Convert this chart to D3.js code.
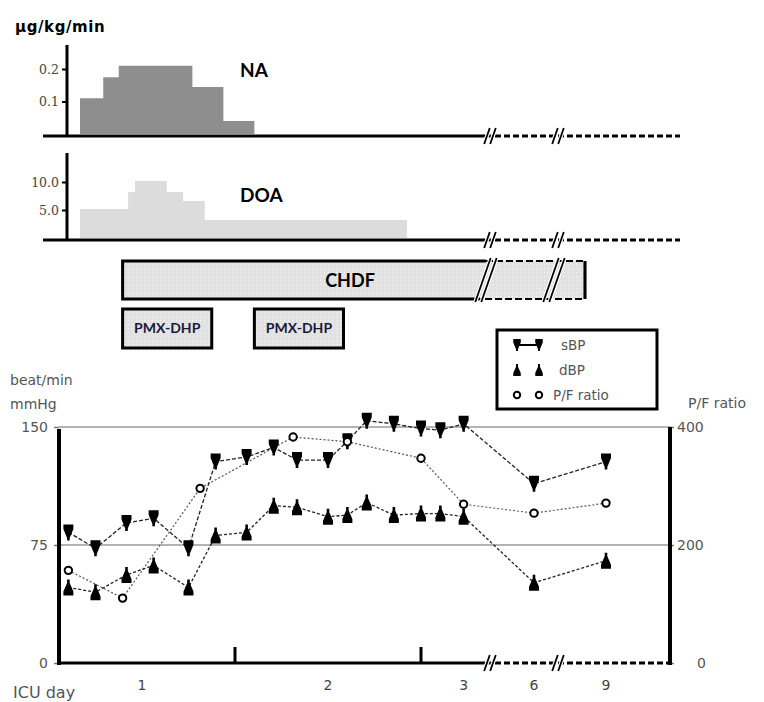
<!DOCTYPE html>
<html>
<head>
<meta charset="utf-8">
<script src="https://cdn.jsdelivr.net/npm/d3@7/dist/d3.min.js"></script>
<style>
  body { margin: 0; background: #fff; }
  svg { font-family: Lato, "Open Sans", sans-serif; }
</style>
</head>
<body>
<div id="chart"></div>
<script>
/** Data: time in hours from ICU admission (day 6 / day 9 placed at mid-day) */
const naSteps = [4, 7, 9, 18.5, 22.5, 26.5];          // step edges
const naValues = [0.11, 0.175, 0.21, 0.145, 0.04];     // µg/kg/min
const doaSteps = [4, 10.2, 11.1, 15.2, 17.3, 20.1, 46.2];
const doaValues = [5.2, 8.2, 10.2, 8.2, 6.6, 3.2];

const chdfSpan = [9.5, 183];
const pmxSpans = [[9.5, 21], [26.5, 38]];

const bpTimes = [2.5, 6, 10, 13.5, 18, 21.5, 25.5, 29, 32, 36, 38.5, 41, 44.5, 48, 50.5, 53.5, 132, 204];
const sbpValues = [83, 73, 89, 92, 73, 128, 131, 137, 129, 129, 141, 154, 152, 149, 148, 152, 114, 128];
const dbpValues = [48, 45, 56, 62, 48, 81, 83, 100, 99, 93, 94, 102, 94, 95, 95, 93, 51, 65];

const pfTimes = [2.5, 9.5, 19.5, 31.5, 38.5, 48, 53.5, 132, 204];
const pfValues = [157, 110, 296, 383, 375, 347, 269, 254, 271];

const dayLabels = ["1", "2", "3", "6", "9"];
const dayLabelTimes = [12, 36, 53.5, 132, 204];
const dayTicks = [24, 48];
const breakTimes = [66.4, 156];

const bpTicks = [0, 75, 150];
const pfTicks = [0, 200, 400];

/** Scales */
const x = d3.scaleLinear().domain([0, 56, 132, 204, 268]).range([49, 483, 534, 606, 670]);
const yNA = d3.scaleLinear().domain([0, 0.2]).range([134, 69]);
const yDOA = d3.scaleLinear().domain([0, 10]).range([238, 182]);
const yBP = d3.scaleLinear().domain([0, 150]).range([663, 427]);
const yPF = d3.scaleLinear().domain([0, 400]).range([663, 427]);

const svg = d3.select("#chart").append("svg").attr("width", 764).attr("height", 702);
const labelFont = "'DejaVu Sans', sans-serif";

/** Dotted fill pattern for CHDF / PMX boxes */
const pat = svg.append("defs").append("pattern")
  .attr("id", "dots").attr("width", 4).attr("height", 4).attr("patternUnits", "userSpaceOnUse");
pat.append("rect").attr("width", 4).attr("height", 4).attr("fill", "#e2e2e2");
pat.append("rect").attr("width", 1).attr("height", 1).attr("fill", "#f6f6f6");

const xEnd = x.domain()[x.domain().length - 1];
const solidEnd = x(breakTimes[0]) - 4;

/** Draw a double slash break mark */
function breakMark(g, cx, cy, h) {
  const dx = h * 0.35;
  [-3, 3].forEach(o => {
    g.append("line")
      .attr("x1", cx + o - dx).attr("y1", cy + h)
      .attr("x2", cx + o + dx).attr("y2", cy - h)
      .attr("stroke", "#fff").attr("stroke-width", 4);
  });
  [-3, 3].forEach(o => {
    g.append("line")
      .attr("x1", cx + o - dx).attr("y1", cy + h)
      .attr("x2", cx + o + dx).attr("y2", cy - h)
      .attr("stroke", "#000").attr("stroke-width", 1.8);
  });
}

/** Baseline with solid part, dashed tail and breaks */
function brokenBaseline(g, x0, y, xe) {
  g.append("line").attr("x1", x0).attr("x2", solidEnd).attr("y1", y).attr("y2", y)
    .attr("stroke", "#000").attr("stroke-width", 3);
  g.append("line").attr("x1", solidEnd).attr("x2", xe).attr("y1", y).attr("y2", y)
    .attr("stroke", "#000").attr("stroke-width", 3).attr("stroke-dasharray", "6,3");
  breakTimes.forEach(t => breakMark(g, x(t), y, 8));
}

/** Step area panel */
function stepPanel(steps, values, yScale, fill, axisTop, label, labelY, ticks, fmt) {
  const g = svg.append("g");
  const pts = [];
  values.forEach((v, i) => {
    pts.push([steps[i], v]);
    pts.push([steps[i + 1], v]);
  });
  const area = d3.area().x(d => x(d[0])).y0(yScale(0)).y1(d => yScale(d[1]));
  g.append("path").datum(pts).attr("d", area).attr("fill", fill);

  const yAxis = d3.axisLeft(yScale).tickValues(ticks).tickFormat(fmt).tickSize(5);
  const ax = g.append("g").attr("transform", "translate(67,0)").call(yAxis);
  ax.select(".domain").remove();
  ax.selectAll(".tick line").attr("stroke-width", 2);
  ax.selectAll("text").attr("fill", "#444")
    .attr("font-family", "'DejaVu Serif', serif").attr("font-size", 12.5);
  g.append("line").attr("x1", 67).attr("x2", 67).attr("y1", axisTop).attr("y2", yScale(0) + 3)
    .attr("stroke", "#000").attr("stroke-width", 3);
  brokenBaseline(g, 43, yScale(0) + 2, x(xEnd) + 10);
  g.append("text").attr("x", 240).attr("y", labelY).attr("dy", "0.35em")
    .attr("font-size", 19).attr("font-weight", "bold").text(label);
}

svg.append("text").attr("x", 15).attr("y", 32).attr("font-size", 15).attr("font-weight", "bold")
  .attr("font-family", labelFont).attr("letter-spacing", 0.6).text("µg/kg/min");
stepPanel(naSteps, naValues, yNA, "#8e8e8e", 45, "NA", 70, [0.1, 0.2], d3.format(".1f"));
stepPanel(doaSteps, doaValues, yDOA, "#dcdcdc", 153, "DOA", 195, [5, 10], d3.format(".1f"));

/** CHDF box */
const cg = svg.append("g");
const cx0 = x(chdfSpan[0]), cx1 = x(chdfSpan[1]);
cg.append("rect").attr("x", cx0).attr("y", 261).attr("width", cx1 - cx0).attr("height", 38)
  .attr("fill", "url(#dots)");
cg.append("path").attr("d", `M${solidEnd},261 H${cx0} V299 H${solidEnd - 6}`)
  .attr("fill", "none").attr("stroke", "#000").attr("stroke-width", 3);
cg.append("path").attr("d", `M${solidEnd},261 H${cx1} V299 H${solidEnd - 6}`)
  .attr("fill", "none").attr("stroke", "#000").attr("stroke-width", 2.2)
  .attr("stroke-dasharray", "7,3");
cg.append("line").attr("x1", cx1).attr("x2", cx1).attr("y1", 261).attr("y2", 299)
  .attr("stroke", "#000").attr("stroke-width", 3);
breakTimes.forEach(t => breakMark(cg, x(t) - 4, 280, 22));
cg.append("text").attr("x", 350).attr("y", 281).attr("dy", "0.35em").attr("text-anchor", "middle")
  .attr("font-size", 18).attr("font-weight", "bold").text("CHDF");

/** PMX-DHP boxes */
pmxSpans.forEach(s => {
  const bx = x(s[0]), bw = x(s[1]) - x(s[0]);
  svg.append("rect").attr("x", bx).attr("y", 309).attr("width", bw).attr("height", 39)
    .attr("fill", "url(#dots)").attr("stroke", "#000").attr("stroke-width", 3);
  svg.append("text").attr("x", bx + bw / 2).attr("y", 328.5).attr("dy", "0.35em")
    .attr("text-anchor", "middle").attr("font-size", 14).attr("font-weight", "bold")
    .attr("fill", "#1a1a3a").text("PMX-DHP");
});

/** Bottom chart */
const bg = svg.append("g");
[75, 150].forEach(v => {
  bg.append("line").attr("x1", 59).attr("x2", 670).attr("y1", yBP(v)).attr("y2", yBP(v))
    .attr("stroke", "#9a9a9a").attr("stroke-width", 1.5);
});

const left = bg.append("g").attr("transform", "translate(59,0)")
  .call(d3.axisLeft(yBP).tickValues(bpTicks).tickSize(5).tickPadding(6));
left.select(".domain").remove();
left.selectAll(".tick line").attr("stroke", "#777").attr("stroke-width", 1.5);
left.selectAll("text").attr("font-size", 14).attr("fill", "#555").attr("font-family", labelFont);
bg.append("line").attr("x1", 59).attr("x2", 59).attr("y1", yBP(150) + 2).attr("y2", yBP(0) + 2)
  .attr("stroke", "#000").attr("stroke-width", 4);

const right = bg.append("g").attr("transform", "translate(670,0)")
  .call(d3.axisRight(yPF).tickValues(pfTicks).tickSize(4).tickPadding(3).tickFormat(d => d === 0 ? "" : d));
right.select(".domain").remove();
right.selectAll(".tick line").attr("stroke", "#777").attr("stroke-width", 1.5);
right.selectAll("text").attr("font-size", 14).attr("fill", "#555").attr("font-family", labelFont);
bg.append("text").attr("x", 697).attr("y", yPF(0)).attr("dy", "0.35em").attr("font-size", 14)
  .attr("font-family", labelFont).attr("fill", "#555").text("0");
bg.append("line").attr("x1", 670).attr("x2", 670).attr("y1", yPF(400)).attr("y2", yPF(0) + 2)
  .attr("stroke", "#000").attr("stroke-width", 4);

brokenBaseline(bg, 59, yBP(0), 672);
dayTicks.forEach(t => {
  bg.append("line").attr("x1", x(t)).attr("x2", x(t)).attr("y1", yBP(0)).attr("y2", yBP(0) - 16)
    .attr("stroke", "#000").attr("stroke-width", 3);
});
dayLabels.forEach((d, i) => {
  bg.append("text").attr("x", x(dayLabelTimes[i])).attr("y", 690).attr("text-anchor", "middle")
    .attr("font-size", 14).attr("font-family", labelFont).attr("fill", "#444").text(d);
});
const axisLabel = (t, lx, ly, fs) => bg.append("text").attr("x", lx).attr("y", ly)
  .attr("font-size", fs).attr("font-family", labelFont).attr("fill", "#555").text(t);
axisLabel("ICU day", 13, 698, 16);
axisLabel("beat/min", 10, 385, 14);
axisLabel("mmHg", 10, 409, 14);
axisLabel("P/F ratio", 688, 408, 14);

/** Markers */
const sbpMark = "M-5,-8 H5 V-3.5 L1.3,5.5 V8 H-1.3 V5.5 L-5,-3.5 Z";
const dbpMark = "M-1.3,-8 H1.3 V-4.5 L5,4 V8 H-5 V4 L-1.3,-4.5 Z";

const line = (xs, ys, yScale) => d3.line().x((d, i) => x(xs[i])).y(d => yScale(d))(ys);

bg.append("path").attr("d", line(pfTimes, pfValues, yPF)).attr("fill", "none")
  .attr("stroke", "#555").attr("stroke-width", 1.2).attr("stroke-dasharray", "2,2");
bg.append("path").attr("d", line(bpTimes, dbpValues, yBP)).attr("fill", "none")
  .attr("stroke", "#222").attr("stroke-width", 1.3).attr("stroke-dasharray", "3,2");
bg.append("path").attr("d", line(bpTimes, sbpValues, yBP)).attr("fill", "none")
  .attr("stroke", "#222").attr("stroke-width", 1.3).attr("stroke-dasharray", "4,2");

bg.selectAll(".sbp").data(sbpValues).join("path").attr("class", "sbp")
  .attr("transform", (d, i) => `translate(${x(bpTimes[i])},${yBP(d)})`)
  .attr("d", sbpMark).attr("fill", "#000");
bg.selectAll(".dbp").data(dbpValues).join("path").attr("class", "dbp")
  .attr("transform", (d, i) => `translate(${x(bpTimes[i])},${yBP(d)})`)
  .attr("d", dbpMark).attr("fill", "#000");
bg.selectAll(".pf").data(pfValues).join("circle").attr("class", "pf")
  .attr("cx", (d, i) => x(pfTimes[i])).attr("cy", d => yPF(d)).attr("r", 3.7)
  .attr("fill", "#fff").attr("stroke", "#000").attr("stroke-width", 2);

/** Legend */
const lg = svg.append("g").attr("transform", "translate(497,330)");
lg.append("rect").attr("width", 160).attr("height", 79).attr("fill", "#fff")
  .attr("stroke", "#000").attr("stroke-width", 3);
lg.append("line").attr("x1", 20).attr("x2", 42).attr("y1", 15).attr("y2", 15)
  .attr("stroke", "#000").attr("stroke-width", 2);
[20, 42].forEach(mx => {
  lg.append("path").attr("transform", `translate(${mx},15) scale(0.75)`).attr("d", sbpMark);
  lg.append("path").attr("transform", `translate(${mx},40) scale(0.75)`).attr("d", dbpMark);
  lg.append("circle").attr("cx", mx).attr("cy", 65).attr("r", 3.2)
    .attr("fill", "#fff").attr("stroke", "#000").attr("stroke-width", 2);
});
[["sBP", 64, 15], ["dBP", 62, 40], ["P/F ratio", 56, 65]].forEach(([t, lx, ly]) => {
  lg.append("text").attr("x", lx).attr("y", ly).attr("dy", "0.35em").attr("font-size", 13.5)
    .attr("font-family", labelFont).attr("fill", "#555").text(t);
});
</script>
</body>
</html>
